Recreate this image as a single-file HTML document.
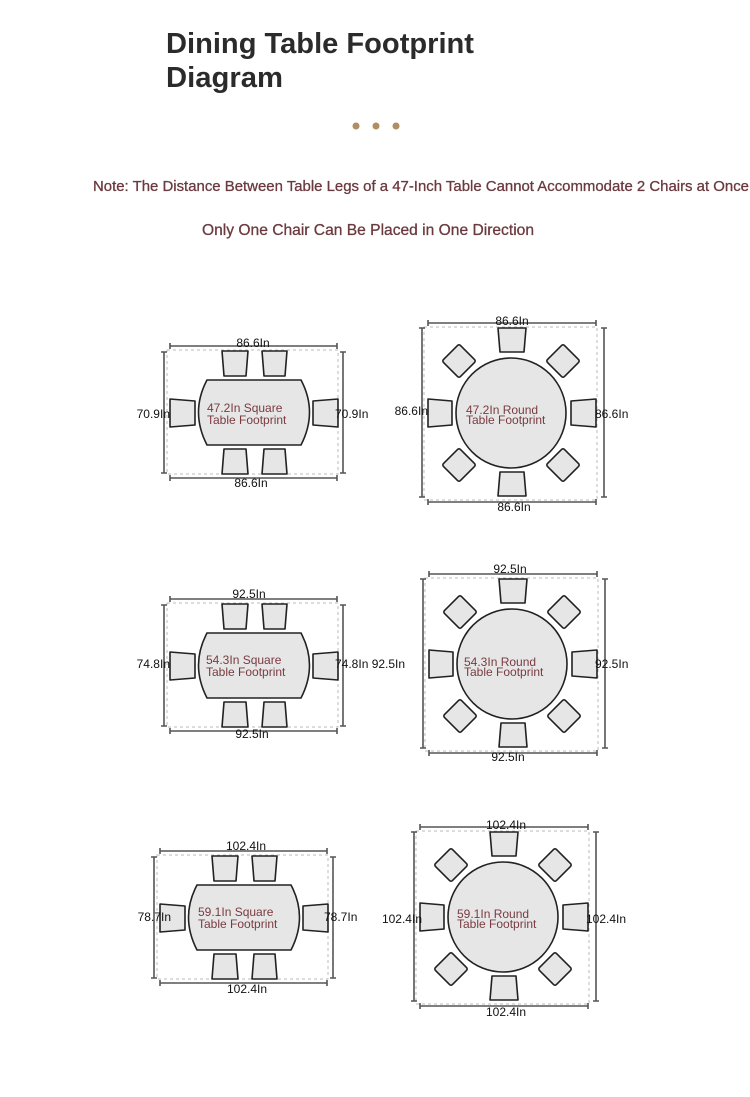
<!DOCTYPE html>
<html><head><meta charset="utf-8"><style>
html,body{margin:0;padding:0;background:#fff;width:750px;height:1097px;overflow:hidden}
svg{display:block}
.t{font-family:"Liberation Sans",sans-serif}
</style></head><body>
<svg width="750" height="1097" viewBox="0 0 750 1097" xmlns="http://www.w3.org/2000/svg">
<defs>
<g id="rectD">
  <rect x="-87" y="-62" width="171" height="124" fill="none" stroke="#bbb" stroke-dasharray="3,3" stroke-width="1"/>
  <g stroke="#555" stroke-width="1.6" fill="none">
    <path d="M-84 -66H83M-84 -69V-63M83 -69V-63"/>
    <path d="M-84 66H83M-84 63V69M83 63V69"/>
    <path d="M-90 -60V61M-93 -60H-87M-93 61H-87"/>
    <path d="M89 -60V61M86 -60H92M86 61H92"/>
  </g>
  <path d="M-47 -32L47 -32Q64 0 47 33L-47 33Q-64 0 -47 -32Z" fill="#e6e6e6" stroke="#222" stroke-width="1.6"/>
  <g fill="#e6e6e6" stroke="#222" stroke-width="1.6" stroke-linejoin="round">
    <path d="M-32 -61H-6L-8 -36H-30Z"/>
    <path d="M8 -61H33L31 -36H10Z"/>
    <path d="M-30 37H-8L-6 62H-32Z"/>
    <path d="M10 37H31L33 62H8Z"/>
    <path d="M-84 -13L-59 -11V13L-84 15Z"/>
    <path d="M84 -13L59 -11V13L84 15Z"/>
  </g>
</g>
<g id="roundD">
  <rect x="-87" y="-86" width="173" height="173" fill="none" stroke="#bbb" stroke-dasharray="3,3" stroke-width="1"/>
  <g stroke="#555" stroke-width="1.6" fill="none">
    <path d="M-83 -90H85M-83 -93V-87M85 -93V-87"/>
    <path d="M-83 89H85M-83 86V92M85 86V92"/>
    <path d="M-89 -85V84M-92 -85H-86M-92 84H-86"/>
    <path d="M93 -85V84M90 -85H96M90 84H96"/>
  </g>
  <circle r="55" fill="#e6e6e6" stroke="#222" stroke-width="1.6"/>
  <g fill="#e6e6e6" stroke="#222" stroke-width="1.6" stroke-linejoin="round">
    <path d="M-13 -85H15L13 -61H-11Z"/>
    <path d="M-11 59H13L15 83H-13Z"/>
    <path d="M-83 -14L-59 -12V12L-83 14Z"/>
    <path d="M85 -14L60 -12V12L85 14Z"/>
    <rect x="-12" y="-12" width="24" height="24" rx="2" transform="translate(-52,-52) rotate(45)"/>
    <rect x="-12" y="-12" width="24" height="24" rx="2" transform="translate(52,-52) rotate(45)"/>
    <rect x="-12" y="-12" width="24" height="24" rx="2" transform="translate(-52,52) rotate(45)"/>
    <rect x="-12" y="-12" width="24" height="24" rx="2" transform="translate(52,52) rotate(45)"/>
  </g>
</g>
</defs>

<text x="166" y="53" class="t" font-size="29" font-weight="bold" fill="#2b2b2b" textLength="308" lengthAdjust="spacingAndGlyphs">Dining Table Footprint</text>
<text x="166" y="87" class="t" font-size="29" font-weight="bold" fill="#2b2b2b" textLength="117" lengthAdjust="spacingAndGlyphs">Diagram</text>
<circle cx="356" cy="126" r="3.5" fill="#b08d63"/>
<circle cx="376" cy="126" r="3.5" fill="#b08d63"/>
<circle cx="396" cy="126" r="3.5" fill="#b08d63"/>
<text x="93" y="191" class="t" font-size="15" fill="#6b3a3f" stroke="#6b3a3f" stroke-width="0.3" textLength="656" lengthAdjust="spacingAndGlyphs">Note: The Distance Between Table Legs of a 47-Inch Table Cannot Accommodate 2 Chairs at Once</text>
<text x="202" y="235" class="t" font-size="16" fill="#6b3a3f" stroke="#6b3a3f" stroke-width="0.3" textLength="332" lengthAdjust="spacingAndGlyphs">Only One Chair Can Be Placed in One Direction</text>

<g class="t" font-size="12" fill="#111">
<!-- D1 -->
<use href="#rectD" transform="translate(254,412)"/>
<text x="253" y="347" text-anchor="middle">86.6In</text>
<text x="251" y="487" text-anchor="middle">86.6In</text>
<text x="170" y="418" text-anchor="end">70.9In</text>
<text x="335" y="418">70.9In</text>
<text x="207" y="412" fill="#7a3b40">47.2In Square</text>
<text x="207" y="424" fill="#7a3b40">Table Footprint</text>
<!-- D2 -->
<use href="#roundD" transform="translate(511,413)"/>
<text x="512" y="325" text-anchor="middle">86.6In</text>
<text x="514" y="511" text-anchor="middle">86.6In</text>
<text x="428" y="415" text-anchor="end">86.6In</text>
<text x="595" y="418">86.6In</text>
<text x="466" y="414" fill="#7a3b40">47.2In Round</text>
<text x="466" y="424" fill="#7a3b40">Table Footprint</text>
<!-- D3 -->
<use href="#rectD" transform="translate(254,665)"/>
<text x="249" y="598" text-anchor="middle">92.5In</text>
<text x="252" y="738" text-anchor="middle">92.5In</text>
<text x="170" y="668" text-anchor="end">74.8In</text>
<text x="335" y="668">74.8In 92.5In</text>
<text x="206" y="664" fill="#7a3b40">54.3In Square</text>
<text x="206" y="676" fill="#7a3b40">Table Footprint</text>
<!-- D4 -->
<use href="#roundD" transform="translate(512,664)"/>
<text x="510" y="573" text-anchor="middle">92.5In</text>
<text x="508" y="761" text-anchor="middle">92.5In</text>
<text x="595" y="668">92.5In</text>
<text x="464" y="666" fill="#7a3b40">54.3In Round</text>
<text x="464" y="676" fill="#7a3b40">Table Footprint</text>
<!-- D5 -->
<use href="#rectD" transform="translate(244,917)"/>
<text x="246" y="850" text-anchor="middle">102.4In</text>
<text x="247" y="993" text-anchor="middle">102.4In</text>
<text x="171" y="921" text-anchor="end">78.7In</text>
<text x="324" y="921">78.7In</text>
<text x="198" y="916" fill="#7a3b40">59.1In Square</text>
<text x="198" y="928" fill="#7a3b40">Table Footprint</text>
<!-- D6 -->
<use href="#roundD" transform="translate(503,917)"/>
<text x="506" y="829" text-anchor="middle">102.4In</text>
<text x="506" y="1016" text-anchor="middle">102.4In</text>
<text x="422" y="923" text-anchor="end">102.4In</text>
<text x="586" y="923">102.4In</text>
<text x="457" y="918" fill="#7a3b40">59.1In Round</text>
<text x="457" y="928" fill="#7a3b40">Table Footprint</text>
</g>
</svg>
</body></html>
